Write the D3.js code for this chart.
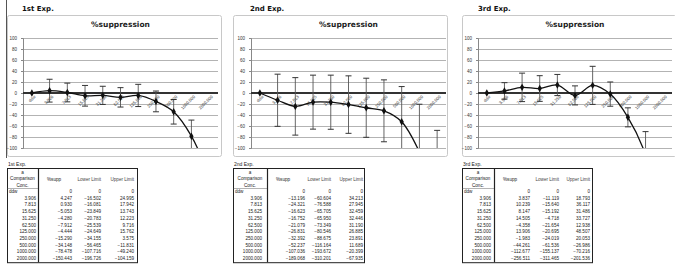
<!DOCTYPE html>
<html>
<head>
<meta charset="utf-8">
<script src="https://cdn.jsdelivr.net/npm/d3@7"></script>
<style>
  body { margin: 0; background: #fff; }
  svg { display: block; }
</style>
</head>
<body>
<div id="chart"></div>
<script>
var width = 675, height = 269;

// data
var categories = ["ddw", "3.906", "7.813", "15.625", "31.250", "62.500", "125.000", "250.000", "500.000", "1000.000", "2000.000"];
var expNames = ["1st Exp.", "2nd Exp.", "3rd Exp."];
var yTicks = [100, 80, 60, 40, 20, 0, -20, -40, -60, -80, -100];
var headers = ["%supp", "Lower Limit", "Upper Limit"];

var exp1Supp  = [0, 4.247, 0.930, -5.053, -4.280, -7.912, -4.444, -15.290, -34.148, -78.478, -150.443];
var exp1Lower = [0, -16.502, -16.081, -23.849, -20.783, -25.539, -24.649, -34.155, -56.465, -107.716, -196.726];
var exp1Upper = [0, 24.995, 17.942, 13.743, 12.223, 9.716, 15.762, 3.575, -11.831, -49.240, -104.159];

var exp2Supp  = [0, -13.196, -24.321, -16.623, -16.752, -21.079, -26.831, -32.392, -52.237, -107.036, -189.068];
var exp2Lower = [0, -60.604, -76.588, -65.705, -65.950, -73.349, -80.546, -88.675, -116.164, -193.672, -310.201];
var exp2Upper = [0, 34.213, 27.945, 32.459, 32.446, 31.190, 26.885, 23.891, 11.689, -20.399, -67.935];

var exp3Supp  = [0, 3.837, 10.239, 8.147, 14.505, -4.358, 13.906, -1.983, -44.261, -112.677, -256.511];
var exp3Lower = [0, -11.119, -15.640, -15.192, -4.718, -21.654, -20.695, -24.019, -61.536, -155.137, -311.465];
var exp3Upper = [0, 18.793, 36.117, 31.486, 33.727, 12.938, 48.507, 20.053, -26.986, -70.216, -201.536];

var supps = [exp1Supp, exp2Supp, exp3Supp];
var lowers = [exp1Lower, exp2Lower, exp3Lower];
var uppers = [exp1Upper, exp2Upper, exp3Upper];

// layout of the three blocks
var boxes = [
  {bx: 7, bw: 215, px0: 23, px1: 218, tx: 7, tw: 130, c1: 31, gap: 2, cols: [65, 94, 127]},
  {bx: 233, bw: 215, px0: 251, px1: 446, tx: 233, tw: 131, c1: 34, gap: 5, cols: [72, 98, 130]},
  {bx: 462, bw: 215, px0: 478, px1: 672, tx: 462, tw: 130, c1: 32, gap: 3, cols: [68, 97, 128]}
];
var labelX = [22, 250, 478];

var svg = d3.select("#chart").append("svg")
  .attr("width", width).attr("height", height);

var y = d3.scaleLinear().domain([-100, 100]).range([148, 38]);
var fmt = d3.format(".3f");

// sheet border on the far left
svg.append("line")
  .attr("x1", 6.5).attr("x2", 6.5).attr("y1", 0).attr("y2", 158)
  .attr("stroke", "#555").attr("stroke-width", 1);

boxes.forEach(function(b, k) {
  var g = svg.append("g");
  var x = d3.scaleBand().domain(categories).range([b.px0, b.px1]);
  var cx = function(d) { return x(d) + x.bandwidth() / 2; };

  // experiment label
  g.append("text")
    .attr("x", labelX[k]).attr("y", 11)
    .attr("font-family", "DejaVu Sans").attr("font-weight", "bold")
    .attr("font-size", "7px").attr("fill", "#111")
    .text(expNames[k]);

  // chart box
  g.append("rect")
    .attr("x", b.bx + 0.5).attr("y", 15.5)
    .attr("width", b.bw - 1).attr("height", 141)
    .attr("rx", 2)
    .attr("fill", "#fff").attr("stroke", "#c8c8c8").attr("stroke-width", 1);

  g.append("text")
    .attr("x", (b.px0 + b.px1) / 2).attr("y", 27)
    .attr("text-anchor", "middle")
    .attr("font-family", "DejaVu Sans").attr("font-weight", "bold")
    .attr("font-size", "7.5px").attr("fill", "#222")
    .text("%suppression");

  // gridlines
  g.append("g").selectAll("line")
    .data(yTicks.filter(function(t) { return t !== 0; }))
    .enter().append("line")
    .attr("x1", b.px0).attr("x2", b.px1)
    .attr("y1", function(d) { return Math.round(y(d)) + 0.5; })
    .attr("y2", function(d) { return Math.round(y(d)) + 0.5; })
    .attr("stroke", "#a0a0a0").attr("stroke-width", 0.8);

  // y axis
  var ax = g.append("g")
    .attr("transform", "translate(" + b.px0 + ",0)")
    .call(d3.axisLeft(y).tickValues(yTicks).tickSize(2).tickPadding(4));
  ax.select(".domain").attr("stroke", "#888");
  ax.selectAll(".tick line").attr("stroke", "#888");
  ax.selectAll("text")
    .attr("font-family", "Liberation Sans").attr("font-size", "4.5px").attr("fill", "#333");

  // zero line
  g.append("line")
    .attr("x1", b.px0).attr("x2", b.px1)
    .attr("y1", y(0)).attr("y2", y(0))
    .attr("stroke", "#333").attr("stroke-width", 2);

  // rotated category labels
  g.append("g").selectAll("text")
    .data(categories)
    .enter().append("text")
    .attr("transform", function(d) {
      return "translate(" + (cx(d) + 4) + "," + (y(0) + 4) + ") rotate(-45)";
    })
    .attr("text-anchor", "end")
    .attr("font-family", "Liberation Sans").attr("font-size", "4.3px").attr("fill", "#333")
    .text(function(d) { return d; });

  var clipId = "clip" + k;
  g.append("clipPath").attr("id", clipId)
    .append("rect")
    .attr("x", b.px0).attr("y", y(100) - 1)
    .attr("width", b.px1 - b.px0).attr("height", y(-100) - y(100) + 1);

  var plot = g.append("g").attr("clip-path", "url(#" + clipId + ")");

  // error bars
  var eb = plot.append("g").selectAll("g")
    .data(categories)
    .enter().append("g");
  eb.append("line")
    .attr("x1", cx).attr("x2", cx)
    .attr("y1", function(d, i) { return y(uppers[k][i]); })
    .attr("y2", function(d, i) { return y(lowers[k][i]); })
    .attr("stroke", "#555").attr("stroke-width", 0.9);
  eb.append("line")
    .attr("x1", function(d) { return cx(d) - 3; })
    .attr("x2", function(d) { return cx(d) + 3; })
    .attr("y1", function(d, i) { return y(uppers[k][i]); })
    .attr("y2", function(d, i) { return y(uppers[k][i]); })
    .attr("stroke", "#333").attr("stroke-width", 1);
  eb.append("line")
    .attr("x1", function(d) { return cx(d) - 3; })
    .attr("x2", function(d) { return cx(d) + 3; })
    .attr("y1", function(d, i) { return y(lowers[k][i]); })
    .attr("y2", function(d, i) { return y(lowers[k][i]); })
    .attr("stroke", "#333").attr("stroke-width", 1);

  // smoothed line
  var line = d3.line()
    .x(function(d, i) { return cx(categories[i]); })
    .y(function(d) { return y(d); })
    .curve(d3.curveCatmullRom.alpha(0.5));
  plot.append("path")
    .datum(supps[k])
    .attr("d", line)
    .attr("fill", "none").attr("stroke", "#111").attr("stroke-width", 1.3);

  plot.append("g").selectAll("path")
    .data(supps[k])
    .enter().append("path")
    .attr("d", d3.symbol().type(d3.symbolDiamond).size(16))
    .attr("transform", function(d, i) { return "translate(" + cx(categories[i]) + "," + y(d) + ")"; })
    .attr("fill", "#111");

  // table below
  var t = svg.append("g").attr("transform", "translate(" + b.tx + ",0)");
  var tf = "Liberation Sans";
  t.append("text")
    .attr("x", 1).attr("y", 166)
    .attr("font-family", tf).attr("font-size", "5px").attr("fill", "#222")
    .text(expNames[k]);

  var top = 168, headH = 20, rowH = 6.7;
  var bottom = top + headH + rowH * categories.length + 0.5;
  t.append("rect")
    .attr("x", 0.5).attr("y", top + 0.5)
    .attr("width", b.tw).attr("height", bottom - top)
    .attr("fill", "none").attr("stroke", "#222").attr("stroke-width", 1);
  t.append("line")
    .attr("x1", b.c1 + 0.5).attr("x2", b.c1 + 0.5)
    .attr("y1", top).attr("y2", bottom)
    .attr("stroke", "#222").attr("stroke-width", 1.2);
  t.append("line")
    .attr("x1", 0.5).attr("x2", b.c1)
    .attr("y1", top + headH + 0.5).attr("y2", top + headH + 0.5)
    .attr("stroke", "#666").attr("stroke-width", 0.5);

  ["a", "Comparison", "Conc."].forEach(function(s, i) {
    t.append("text")
      .attr("x", b.c1 / 2).attr("y", top + 6 + i * 6.3)
      .attr("text-anchor", "middle")
      .attr("font-family", tf).attr("font-size", "4.6px").attr("fill", "#222")
      .text(s);
  });
  headers.forEach(function(h, j) {
    t.append("text")
      .attr("x", j === 0 ? b.c1 + 9 : b.cols[j]).attr("y", top + 12.5)
      .attr("text-anchor", j === 0 ? "start" : "end")
      .attr("font-family", tf).attr("font-size", "4.6px")
      .attr("fill", j === 0 ? "#222" : "#444")
      .text(h);
  });

  categories.forEach(function(c, i) {
    var ry = top + headH + rowH * i + 5;
    t.append("text")
      .attr("x", i === 0 ? 2 : b.c1 - b.gap).attr("y", ry)
      .attr("text-anchor", i === 0 ? "start" : "end")
      .attr("font-family", tf).attr("font-size", "4.6px").attr("fill", "#222")
      .text(c);
    [supps[k][i], lowers[k][i], uppers[k][i]].forEach(function(v, j) {
      t.append("text")
        .attr("x", b.cols[j]).attr("y", ry)
        .attr("text-anchor", "end")
        .attr("font-family", tf).attr("font-size", "4.6px").attr("fill", "#222")
        .text(v === 0 ? "0" : fmt(v));
    });
  });
});
</script>
</body>
</html>
